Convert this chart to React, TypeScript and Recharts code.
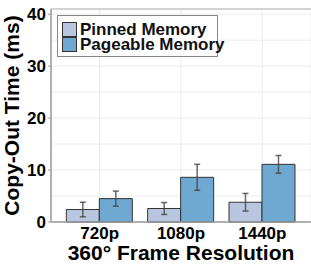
import React from 'react'
import { BarChart, Bar, XAxis, YAxis, CartesianGrid, ErrorBar, ReferenceLine, Label } from 'recharts'

const resolutions = ['720p', '1080p', '1440p']
const pinned = [2.4, 2.6, 3.8]
const pinnedErr = [1.4, 1.15, 1.7]
const pageable = [4.5, 8.6, 11.1]
const pageableErr = [1.45, 2.5, 1.7]
const yTicks = [0, 10, 20, 30, 40]
const gridValues = [0, 5, 10, 15, 20, 25, 30, 35, 40]

const data = resolutions.map((r, i) => ({
  res: r,
  pinned: pinned[i],
  pinnedErr: pinnedErr[i],
  pageable: pageable[i],
  pageableErr: pageableErr[i],
}))

const PINNED = '#B9C6E0'
const PAGEABLE = '#6FA8D0'
const font = 'Arial, "Liberation Sans", sans-serif'

// legend drawn as a plain overlay so it does not shrink the plot area
const LegendBox = () => (
  <div
    style={{
      position: 'absolute',
      left: 57,
      top: 15,
      width: 161,
      height: 42,
      border: '1px solid #888',
      background: '#fff',
      padding: '6px 0 0 4px',
      fontFamily: font,
      fontWeight: 'bold',
      fontSize: 17,
      lineHeight: '15px',
      color: '#111',
      boxSizing: 'border-box',
      whiteSpace: 'nowrap',
    }}
  >
    {[
      ['Pinned Memory', PINNED],
      ['Pageable Memory', PAGEABLE],
    ].map(([name, c]) => (
      <div key={name} style={{ display: 'flex', alignItems: 'center', height: 15 }}>
        <span style={{ width: 15, height: 15, background: c, border: '1px solid #333', marginRight: 3, display: 'inline-block', boxSizing: 'border-box', flexShrink: 0 }} />
        <span>{name}</span>
      </div>
    ))}
  </div>
)

export default function App() {
  return (
    <div style={{ position: 'absolute', left: 0, top: 0, width: 311, height: 264, background: '#fff' }}>
      <BarChart
        width={311}
        height={264}
        data={data}
        margin={{ top: 9, right: 0, left: 0, bottom: 0 }}
        barGap={0}
        barCategoryGap="9%"
      >
        <CartesianGrid stroke="#EBEBEB" horizontalValues={gridValues} />
        <XAxis
          dataKey="res"
          height={42}
          padding={{ left: 8, right: 8 }}
          axisLine={{ stroke: '#999', strokeWidth: 1.5 }}
          tickLine={false}
          interval={0}
          tick={{ fill: '#000', fontSize: 17, fontWeight: 'bold', fontFamily: font }}
          tickMargin={-1}
        >
          <Label
            value="360° Frame Resolution"
            position="insideBottom"
            offset={4}
            style={{ fill: '#000', fontSize: 21, fontWeight: 'bold', fontFamily: font }}
          />
        </XAxis>
        <YAxis
          width={51}
          domain={[0, 41]}
          ticks={yTicks}
          interval={0}
          axisLine={{ stroke: '#999', strokeWidth: 1.5 }}
          tickLine={{ stroke: '#999' }}
          tickSize={3}
          tick={{ fill: '#000', fontSize: 17, fontWeight: 'bold', fontFamily: font }}
        >
          <Label
            value="Copy-Out Time (ms)"
            angle={-90}
            position="insideLeft"
            offset={12}
            style={{ textAnchor: 'middle', fill: '#000', fontSize: 21, fontWeight: 'bold', fontFamily: font }}
          />
        </YAxis>
        <ReferenceLine y={41} stroke="#D3D3D3" strokeWidth={2} />
        <Bar dataKey="pinned" name="Pinned Memory" fill={PINNED} stroke="#333" strokeWidth={1} isAnimationActive={false}>
          <ErrorBar dataKey="pinnedErr" width={3} stroke="#444" strokeOpacity={0.8} strokeWidth={1.5} />
        </Bar>
        <Bar dataKey="pageable" name="Pageable Memory" fill={PAGEABLE} stroke="#333" strokeWidth={1} isAnimationActive={false}>
          <ErrorBar dataKey="pageableErr" width={3} stroke="#444" strokeOpacity={0.8} strokeWidth={1.5} />
        </Bar>
      </BarChart>
      <LegendBox />
    </div>
  )
}
